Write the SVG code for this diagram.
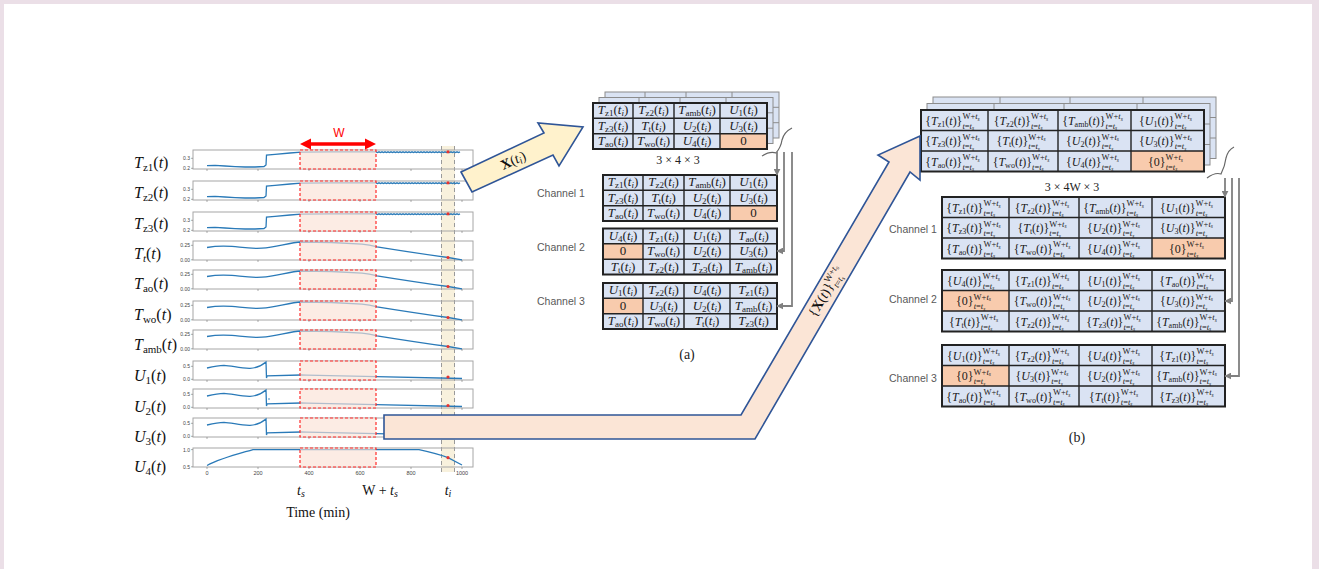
<svg xmlns="http://www.w3.org/2000/svg" xmlns:xlink="http://www.w3.org/1999/xlink" width="1319" height="569" viewBox="0 0 1319 569">
<style>
.bx{fill:none;stroke:#a6a6a6;stroke-width:1}
.cv{fill:none;stroke:#2a7ab8;stroke-width:1.3}
.win{fill:#fbe2d6;fill-opacity:.65;stroke:#ff2b2b;stroke-width:1.2;stroke-dasharray:3 2}
.dot{fill:#e8322f}
.tk{font-family:"Liberation Sans",sans-serif;font-size:5px;fill:#444;text-anchor:end}
.tkx{font-family:"Liberation Sans",sans-serif;font-size:5.5px;fill:#444;text-anchor:middle}
.tkl{fill:none;stroke:#777;stroke-width:.6}
.lab{font-family:"Liberation Serif",serif;font-size:16px;fill:#111}
.ls{font-size:11px}
.i{font-style:italic}
.bg{fill:#dae3f3}
.z{fill:#f8cbad}
.gl{fill:none;stroke:#222;stroke-width:1.4}
.go{fill:none;stroke:#222;stroke-width:2}
.back{fill:#dae3f3;stroke:#8c8c8c;stroke-width:1}
.backl{fill:none;stroke:#8c8c8c;stroke-width:1}
.c{font-family:"Liberation Serif",serif;font-size:13px;text-anchor:middle;fill:#1a1a1a}
.s{font-size:9px}
.cb{font-family:"Liberation Serif",serif;font-size:12px;text-anchor:middle;fill:#1a1a1a}
.sb{font-size:8px}
.p{font-size:8.5px}
.q{font-size:5.5px}
.ch{font-family:"Liberation Sans",sans-serif;font-size:10.5px;fill:#595959}
.cap{font-family:"Liberation Serif",serif;font-size:14px;fill:#222;text-anchor:middle}
.dim{font-family:"Liberation Serif",serif;font-size:12px;fill:#222;text-anchor:middle}
.conn{fill:none;stroke:#808080;stroke-width:1.8}
.br{fill:none;stroke:#666;stroke-width:1.2}
.ya{fill:#fff2cc;stroke:#2f5597;stroke-width:1.6;stroke-linejoin:miter}
.pa{fill:#fbe5d6;stroke:#2f5597;stroke-width:1.6;stroke-linejoin:miter}
.al{font-family:"Liberation Serif",serif;font-size:14px;fill:#111;text-anchor:middle}
</style>
<defs>
<marker id="ah" viewBox="0 0 10 10" refX="9" refY="5" markerWidth="7" markerHeight="7" orient="auto" markerUnits="userSpaceOnUse"><path d="M0,0 L10,5 L0,10 Z" fill="#808080"/></marker>
<path id="cZ" d="M207,15.7 L215,15.3 L225,16 L235,16.6 L245,17 L255,17 L264,16.5 L266,15 L266.5,5 L275,4.3 L290,3 L301,2.2 L330,1.8 L376,1.8 l1.5,.7 1.5,-.7 1.5,.7 1.5,-.7 1.5,.7 1.5,-.7 1.5,.7 1.5,-.7 1.5,.7 1.5,-.7 1.5,.7 1.5,-.7 1.5,.7 1.5,-.7 1.5,.7 1.5,-.7 1.5,.7 1.5,-.7 1.5,.7 1.5,-.7 1.5,.7 1.5,-.7 1.5,.7 1.5,-.7 1.5,.7 1.5,-.7 1.5,.7 1.5,-.7 1.5,.7 1.5,-.7 1.5,.7 1.5,-.7 1.5,.7 1.5,-.7 1.5,.7 1.5,-.7 1.5,.7 1.5,-.7 1.5,.7 1.5,-.7 1.5,.7 1.5,-.7 1.5,.7 1.5,-.7 1.5,.7 1.5,-.7 1.5,.7 1.5,-.7 1.5,.7 1.5,-.7 1.5,.7 1.5,-.7 1.5,.7 1.5,-.7 1.5,.7 1.5,-.7"/>
<path id="cT" d="M207,6.5 C214,5.2 222,4.6 232,5.4 C242,6.3 250,8 262,7.2 C276,6.2 290,1.5 301,1 C320,1 345,2 362,3.2 C370,3.8 374,5 377,5.8 C400,9.5 430,14 448,16.5 L462,18.8"/>
<path id="cU" d="M207,7 C213,5.5 218,4.3 224,4.3 C232,4.6 240,7.5 250,7.3 C258,7.1 263,3.5 266,1 L266.5,17 L267,14.8 L301,14 C330,14.6 360,15.3 376,15.6 L462,17.5"/>
<path id="cU4" d="M207,17.5 C220,10.5 238,6 253,1.6 L419,1.6 C430,4 440,6.5 448,9.7 L462,17"/>
<path id="xt" class="tkl" d="M207,19v2M258,19v2M309,19v2M360,19v2M411,19v2M462,19v2"/>
<g id="ytZ"><text class="tk" x="190" y="10">0.3</text><text class="tk" x="190" y="20">0.2</text><path class="tkl" d="M191,8.3h2M191,18.3h2"/></g>
<g id="ytT"><text class="tk" x="190" y="6">0.25</text><text class="tk" x="190" y="20.5">0.00</text><path class="tkl" d="M191,4.3h2M191,18.8h2"/></g>
<g id="ytU"><text class="tk" x="190" y="7">0.5</text><text class="tk" x="190" y="20">0.0</text><path class="tkl" d="M191,5.3h2M191,18.3h2"/></g>
<g id="ytU4"><text class="tk" x="190" y="3.5">1.0</text><text class="tk" x="190" y="20.5">0.5</text><path class="tkl" d="M191,1.6h2M191,18.8h2"/></g>
<g id="backA"><rect class="back" width="174" height="46"/><path class="backl" d="M40,0V46M81,0V46M127,0V46M0,15.3H174M0,30.7H174"/></g>
<g id="gridA"><path class="gl" d="M40,0V46M81,0V46M127,0V46M0,15.3H174M0,30.7H174"/><rect class="go" width="174" height="46"/></g>
<g id="backB"><rect class="back" width="283" height="61.5"/><path class="backl" d="M67,0V61.5M137,0V61.5M210,0V61.5M0,20.5H283M0,41H283"/></g>
<g id="gridB"><path class="gl" d="M67,0V61.5M137,0V61.5M210,0V61.5M0,20.5H283M0,41H283"/><rect class="go" width="283" height="61.5"/></g>
</defs>

<rect width="1319" height="569" fill="#ebdfe7"/>
<rect x="4" y="4" width="1308" height="565" fill="#ffffff"/>

<g id="time-band">
<rect x="441" y="146" width="14" height="326" fill="#f8f1dd"/>
<path d="M441.5,146V472M454.5,146V472" fill="none" stroke="#9a9a9a" stroke-width="1" stroke-dasharray="4 3"/>
</g>

<g id="plot-Tz1" transform="translate(0,150)">
<rect class="bx" x="193" y="0" width="280" height="19"/><use href="#xt"/><use href="#ytZ"/>
<use href="#cZ" class="cv"/><rect class="win" x="300" y="0" width="76" height="19"/><circle class="dot" cx="448" cy="1.8" r="1.6"/>
<text class="lab" x="134" y="18"><tspan class="i">T</tspan><tspan class="ls" dy="3">z1</tspan><tspan dy="-3">(</tspan><tspan class="i">t</tspan>)</text>
</g>
<g id="plot-Tz2" transform="translate(0,181)">
<rect class="bx" x="193" y="0" width="280" height="19"/><use href="#xt"/><use href="#ytZ"/>
<use href="#cZ" class="cv"/><rect class="win" x="300" y="0" width="76" height="19"/><circle class="dot" cx="448" cy="1.8" r="1.6"/>
<text class="lab" x="134" y="17"><tspan class="i">T</tspan><tspan class="ls" dy="3">z2</tspan><tspan dy="-3">(</tspan><tspan class="i">t</tspan>)</text>
</g>
<g id="plot-Tz3" transform="translate(0,212)">
<rect class="bx" x="193" y="0" width="280" height="19"/><use href="#xt"/><use href="#ytZ"/>
<use href="#cZ" class="cv"/><rect class="win" x="300" y="0" width="76" height="19"/><circle class="dot" cx="448" cy="1.8" r="1.6"/>
<text class="lab" x="134" y="17"><tspan class="i">T</tspan><tspan class="ls" dy="3">z3</tspan><tspan dy="-3">(</tspan><tspan class="i">t</tspan>)</text>
</g>
<g id="plot-Tt" transform="translate(0,241)">
<rect class="bx" x="193" y="0" width="280" height="19"/><use href="#xt"/><use href="#ytT"/>
<use href="#cT" class="cv"/><rect class="win" x="300" y="0" width="76" height="19"/><circle class="dot" cx="448" cy="16.5" r="1.6"/>
<text class="lab" x="134" y="18"><tspan class="i">T</tspan><tspan class="ls i" dy="3">t</tspan><tspan dy="-3">(</tspan><tspan class="i">t</tspan>)</text>
</g>
<g id="plot-Tao" transform="translate(0,270)">
<rect class="bx" x="193" y="0" width="280" height="19"/><use href="#xt"/><use href="#ytT"/>
<use href="#cT" class="cv"/><rect class="win" x="300" y="0" width="76" height="19"/><circle class="dot" cx="448" cy="16.5" r="1.6"/>
<text class="lab" x="134" y="19"><tspan class="i">T</tspan><tspan class="ls" dy="3">ao</tspan><tspan dy="-3">(</tspan><tspan class="i">t</tspan>)</text>
</g>
<g id="plot-Two" transform="translate(0,301)">
<rect class="bx" x="193" y="0" width="280" height="19"/><use href="#xt"/><use href="#ytT"/>
<use href="#cT" class="cv"/><rect class="win" x="300" y="0" width="76" height="19"/><circle class="dot" cx="448" cy="16.5" r="1.6"/>
<text class="lab" x="134" y="19"><tspan class="i">T</tspan><tspan class="ls" dy="3">wo</tspan><tspan dy="-3">(</tspan><tspan class="i">t</tspan>)</text>
</g>
<g id="plot-Tamb" transform="translate(0,330)">
<rect class="bx" x="193" y="0" width="280" height="19"/><use href="#xt"/><use href="#ytT"/>
<use href="#cT" class="cv"/><rect class="win" x="300" y="0" width="76" height="19"/><circle class="dot" cx="448" cy="16.5" r="1.6"/>
<text class="lab" x="134" y="20"><tspan class="i">T</tspan><tspan class="ls" dy="3">amb</tspan><tspan dy="-3">(</tspan><tspan class="i">t</tspan>)</text>
</g>
<g id="plot-U1" transform="translate(0,361)">
<rect class="bx" x="193" y="0" width="280" height="19"/><use href="#xt"/><use href="#ytU"/>
<use href="#cU" class="cv"/><rect class="win" x="300" y="0" width="76" height="19"/><circle class="dot" cx="448" cy="16" r="1.6"/>
<text class="lab" x="134" y="20"><tspan class="i">U</tspan><tspan class="ls" dy="3">1</tspan><tspan dy="-3">(</tspan><tspan class="i">t</tspan>)</text>
</g>
<g id="plot-U2" transform="translate(0,389)">
<rect class="bx" x="193" y="0" width="280" height="19"/><use href="#xt"/><use href="#ytU"/>
<use href="#cU" class="cv"/><circle cx="269" cy="10" r="0.8" fill="#2a7ab8"/><rect class="win" x="300" y="0" width="76" height="19"/><circle class="dot" cx="448" cy="16.5" r="1.6"/>
<text class="lab" x="134" y="23"><tspan class="i">U</tspan><tspan class="ls" dy="3">2</tspan><tspan dy="-3">(</tspan><tspan class="i">t</tspan>)</text>
</g>
<g id="plot-U3" transform="translate(0,418)">
<rect class="bx" x="193" y="0" width="280" height="19"/><use href="#xt"/><use href="#ytU"/>
<use href="#cU" class="cv"/><rect class="win" x="300" y="0" width="76" height="19"/><circle class="dot" cx="448" cy="16.5" r="1.6"/>
<text class="lab" x="134" y="24"><tspan class="i">U</tspan><tspan class="ls" dy="3">3</tspan><tspan dy="-3">(</tspan><tspan class="i">t</tspan>)</text>
</g>
<g id="plot-U4" transform="translate(0,448)">
<rect class="bx" x="193" y="0" width="280" height="19"/><use href="#xt"/><use href="#ytU4"/>
<use href="#cU4" class="cv"/><rect class="win" x="300" y="0" width="76" height="19"/><circle class="dot" cx="448" cy="9.7" r="1.6"/>
<text class="lab" x="134" y="24"><tspan class="i">U</tspan><tspan class="ls" dy="3">4</tspan><tspan dy="-3">(</tspan><tspan class="i">t</tspan>)</text>
<text class="tkx" x="207" y="26.5">0</text><text class="tkx" x="258" y="26.5">200</text><text class="tkx" x="309" y="26.5">400</text><text class="tkx" x="360" y="26.5">600</text><text class="tkx" x="411" y="26.5">800</text><text class="tkx" x="462" y="26.5">1000</text>
</g>

<g id="window-W">
<line x1="308" y1="144" x2="368" y2="144" stroke="#ff0000" stroke-width="3.5"/>
<path d="M300,144 L311,138.5 L311,149.5 Z M376,144 L365,138.5 L365,149.5 Z" fill="#ff0000"/>
<text x="339" y="137" font-family="Liberation Sans, sans-serif" font-size="12" fill="#ff0000" text-anchor="middle">W</text>
</g>

<g id="time-labels">
<text class="al" x="301" y="495"><tspan class="i">t</tspan><tspan class="i" font-size="10" dy="2">s</tspan></text>
<text class="al" x="380" y="495">W + <tspan class="i">t</tspan><tspan class="i" font-size="10" dy="2">s</tspan></text>
<text class="al" x="448" y="495" fill="#ff0000"><tspan class="i">t</tspan><tspan class="i" font-size="10" dy="2">i</tspan></text>
<text class="al" x="318" y="517">Time (min)</text>
</g>

<g id="table-a-stack">
<use href="#backA" x="605" y="92"/>
<use href="#backA" x="599" y="97.5"/>
<g transform="translate(593,103)">
<rect class="bg" width="174" height="46"/><rect class="z" x="127" y="30.7" width="47" height="15.3"/><use href="#gridA"/>
<text class="c" x="20" y="11.3"><tspan class="i">T</tspan><tspan class="s" dy="2">z1</tspan><tspan dy="-2">(</tspan><tspan class="i">t</tspan><tspan class="s i" dy="2">i</tspan><tspan dy="-2">)</tspan></text>
<text class="c" x="60.5" y="11.3"><tspan class="i">T</tspan><tspan class="s" dy="2">z2</tspan><tspan dy="-2">(</tspan><tspan class="i">t</tspan><tspan class="s i" dy="2">i</tspan><tspan dy="-2">)</tspan></text>
<text class="c" x="104" y="11.3"><tspan class="i">T</tspan><tspan class="s" dy="2">amb</tspan><tspan dy="-2">(</tspan><tspan class="i">t</tspan><tspan class="s i" dy="2">i</tspan><tspan dy="-2">)</tspan></text>
<text class="c" x="150.5" y="11.3"><tspan class="i">U</tspan><tspan class="s" dy="2">1</tspan><tspan dy="-2">(</tspan><tspan class="i">t</tspan><tspan class="s i" dy="2">i</tspan><tspan dy="-2">)</tspan></text>
<text class="c" x="20" y="26.7"><tspan class="i">T</tspan><tspan class="s" dy="2">z3</tspan><tspan dy="-2">(</tspan><tspan class="i">t</tspan><tspan class="s i" dy="2">i</tspan><tspan dy="-2">)</tspan></text>
<text class="c" x="60.5" y="26.7"><tspan class="i">T</tspan><tspan class="s" dy="2">t</tspan><tspan dy="-2">(</tspan><tspan class="i">t</tspan><tspan class="s i" dy="2">i</tspan><tspan dy="-2">)</tspan></text>
<text class="c" x="104" y="26.7"><tspan class="i">U</tspan><tspan class="s" dy="2">2</tspan><tspan dy="-2">(</tspan><tspan class="i">t</tspan><tspan class="s i" dy="2">i</tspan><tspan dy="-2">)</tspan></text>
<text class="c" x="150.5" y="26.7"><tspan class="i">U</tspan><tspan class="s" dy="2">3</tspan><tspan dy="-2">(</tspan><tspan class="i">t</tspan><tspan class="s i" dy="2">i</tspan><tspan dy="-2">)</tspan></text>
<text class="c" x="20" y="42"><tspan class="i">T</tspan><tspan class="s" dy="2">ao</tspan><tspan dy="-2">(</tspan><tspan class="i">t</tspan><tspan class="s i" dy="2">i</tspan><tspan dy="-2">)</tspan></text>
<text class="c" x="60.5" y="42"><tspan class="i">T</tspan><tspan class="s" dy="2">wo</tspan><tspan dy="-2">(</tspan><tspan class="i">t</tspan><tspan class="s i" dy="2">i</tspan><tspan dy="-2">)</tspan></text>
<text class="c" x="104" y="42"><tspan class="i">U</tspan><tspan class="s" dy="2">4</tspan><tspan dy="-2">(</tspan><tspan class="i">t</tspan><tspan class="s i" dy="2">i</tspan><tspan dy="-2">)</tspan></text>
<text class="c" x="150.5" y="42">0</text>
</g>
<text class="dim" x="678" y="164">3 × 4 × 3</text>
</g>

<g id="table-a-ch1">
<text class="ch" x="537" y="197">Channel 1</text>
<g transform="translate(603,175)">
<rect class="bg" width="174" height="46"/><rect class="z" x="127" y="30.7" width="47" height="15.3"/><use href="#gridA"/>
<text class="c" x="20" y="11.3"><tspan class="i">T</tspan><tspan class="s" dy="2">z1</tspan><tspan dy="-2">(</tspan><tspan class="i">t</tspan><tspan class="s i" dy="2">i</tspan><tspan dy="-2">)</tspan></text>
<text class="c" x="60.5" y="11.3"><tspan class="i">T</tspan><tspan class="s" dy="2">z2</tspan><tspan dy="-2">(</tspan><tspan class="i">t</tspan><tspan class="s i" dy="2">i</tspan><tspan dy="-2">)</tspan></text>
<text class="c" x="104" y="11.3"><tspan class="i">T</tspan><tspan class="s" dy="2">amb</tspan><tspan dy="-2">(</tspan><tspan class="i">t</tspan><tspan class="s i" dy="2">i</tspan><tspan dy="-2">)</tspan></text>
<text class="c" x="150.5" y="11.3"><tspan class="i">U</tspan><tspan class="s" dy="2">1</tspan><tspan dy="-2">(</tspan><tspan class="i">t</tspan><tspan class="s i" dy="2">i</tspan><tspan dy="-2">)</tspan></text>
<text class="c" x="20" y="26.7"><tspan class="i">T</tspan><tspan class="s" dy="2">z3</tspan><tspan dy="-2">(</tspan><tspan class="i">t</tspan><tspan class="s i" dy="2">i</tspan><tspan dy="-2">)</tspan></text>
<text class="c" x="60.5" y="26.7"><tspan class="i">T</tspan><tspan class="s" dy="2">t</tspan><tspan dy="-2">(</tspan><tspan class="i">t</tspan><tspan class="s i" dy="2">i</tspan><tspan dy="-2">)</tspan></text>
<text class="c" x="104" y="26.7"><tspan class="i">U</tspan><tspan class="s" dy="2">2</tspan><tspan dy="-2">(</tspan><tspan class="i">t</tspan><tspan class="s i" dy="2">i</tspan><tspan dy="-2">)</tspan></text>
<text class="c" x="150.5" y="26.7"><tspan class="i">U</tspan><tspan class="s" dy="2">3</tspan><tspan dy="-2">(</tspan><tspan class="i">t</tspan><tspan class="s i" dy="2">i</tspan><tspan dy="-2">)</tspan></text>
<text class="c" x="20" y="42"><tspan class="i">T</tspan><tspan class="s" dy="2">ao</tspan><tspan dy="-2">(</tspan><tspan class="i">t</tspan><tspan class="s i" dy="2">i</tspan><tspan dy="-2">)</tspan></text>
<text class="c" x="60.5" y="42"><tspan class="i">T</tspan><tspan class="s" dy="2">wo</tspan><tspan dy="-2">(</tspan><tspan class="i">t</tspan><tspan class="s i" dy="2">i</tspan><tspan dy="-2">)</tspan></text>
<text class="c" x="104" y="42"><tspan class="i">U</tspan><tspan class="s" dy="2">4</tspan><tspan dy="-2">(</tspan><tspan class="i">t</tspan><tspan class="s i" dy="2">i</tspan><tspan dy="-2">)</tspan></text>
<text class="c" x="150.5" y="42">0</text>
</g>
</g>

<g id="table-a-ch2">
<text class="ch" x="537" y="251">Channel 2</text>
<g transform="translate(603,228.5)">
<rect class="bg" width="174" height="46"/><rect class="z" x="0" y="15.3" width="40" height="15.4"/><use href="#gridA"/>
<text class="c" x="20" y="11.3"><tspan class="i">U</tspan><tspan class="s" dy="2">4</tspan><tspan dy="-2">(</tspan><tspan class="i">t</tspan><tspan class="s i" dy="2">i</tspan><tspan dy="-2">)</tspan></text>
<text class="c" x="60.5" y="11.3"><tspan class="i">T</tspan><tspan class="s" dy="2">z1</tspan><tspan dy="-2">(</tspan><tspan class="i">t</tspan><tspan class="s i" dy="2">i</tspan><tspan dy="-2">)</tspan></text>
<text class="c" x="104" y="11.3"><tspan class="i">U</tspan><tspan class="s" dy="2">1</tspan><tspan dy="-2">(</tspan><tspan class="i">t</tspan><tspan class="s i" dy="2">i</tspan><tspan dy="-2">)</tspan></text>
<text class="c" x="150.5" y="11.3"><tspan class="i">T</tspan><tspan class="s" dy="2">ao</tspan><tspan dy="-2">(</tspan><tspan class="i">t</tspan><tspan class="s i" dy="2">i</tspan><tspan dy="-2">)</tspan></text>
<text class="c" x="20" y="26.7">0</text>
<text class="c" x="60.5" y="26.7"><tspan class="i">T</tspan><tspan class="s" dy="2">wo</tspan><tspan dy="-2">(</tspan><tspan class="i">t</tspan><tspan class="s i" dy="2">i</tspan><tspan dy="-2">)</tspan></text>
<text class="c" x="104" y="26.7"><tspan class="i">U</tspan><tspan class="s" dy="2">2</tspan><tspan dy="-2">(</tspan><tspan class="i">t</tspan><tspan class="s i" dy="2">i</tspan><tspan dy="-2">)</tspan></text>
<text class="c" x="150.5" y="26.7"><tspan class="i">U</tspan><tspan class="s" dy="2">3</tspan><tspan dy="-2">(</tspan><tspan class="i">t</tspan><tspan class="s i" dy="2">i</tspan><tspan dy="-2">)</tspan></text>
<text class="c" x="20" y="42"><tspan class="i">T</tspan><tspan class="s" dy="2">t</tspan><tspan dy="-2">(</tspan><tspan class="i">t</tspan><tspan class="s i" dy="2">i</tspan><tspan dy="-2">)</tspan></text>
<text class="c" x="60.5" y="42"><tspan class="i">T</tspan><tspan class="s" dy="2">z2</tspan><tspan dy="-2">(</tspan><tspan class="i">t</tspan><tspan class="s i" dy="2">i</tspan><tspan dy="-2">)</tspan></text>
<text class="c" x="104" y="42"><tspan class="i">T</tspan><tspan class="s" dy="2">z3</tspan><tspan dy="-2">(</tspan><tspan class="i">t</tspan><tspan class="s i" dy="2">i</tspan><tspan dy="-2">)</tspan></text>
<text class="c" x="150.5" y="42"><tspan class="i">T</tspan><tspan class="s" dy="2">amb</tspan><tspan dy="-2">(</tspan><tspan class="i">t</tspan><tspan class="s i" dy="2">i</tspan><tspan dy="-2">)</tspan></text>
</g>
</g>

<g id="table-a-ch3">
<text class="ch" x="537" y="305">Channel 3</text>
<g transform="translate(603,283)">
<rect class="bg" width="174" height="46"/><rect class="z" x="0" y="15.3" width="40" height="15.4"/><use href="#gridA"/>
<text class="c" x="20" y="11.3"><tspan class="i">U</tspan><tspan class="s" dy="2">1</tspan><tspan dy="-2">(</tspan><tspan class="i">t</tspan><tspan class="s i" dy="2">i</tspan><tspan dy="-2">)</tspan></text>
<text class="c" x="60.5" y="11.3"><tspan class="i">T</tspan><tspan class="s" dy="2">z2</tspan><tspan dy="-2">(</tspan><tspan class="i">t</tspan><tspan class="s i" dy="2">i</tspan><tspan dy="-2">)</tspan></text>
<text class="c" x="104" y="11.3"><tspan class="i">U</tspan><tspan class="s" dy="2">4</tspan><tspan dy="-2">(</tspan><tspan class="i">t</tspan><tspan class="s i" dy="2">i</tspan><tspan dy="-2">)</tspan></text>
<text class="c" x="150.5" y="11.3"><tspan class="i">T</tspan><tspan class="s" dy="2">z1</tspan><tspan dy="-2">(</tspan><tspan class="i">t</tspan><tspan class="s i" dy="2">i</tspan><tspan dy="-2">)</tspan></text>
<text class="c" x="20" y="26.7">0</text>
<text class="c" x="60.5" y="26.7"><tspan class="i">U</tspan><tspan class="s" dy="2">3</tspan><tspan dy="-2">(</tspan><tspan class="i">t</tspan><tspan class="s i" dy="2">i</tspan><tspan dy="-2">)</tspan></text>
<text class="c" x="104" y="26.7"><tspan class="i">U</tspan><tspan class="s" dy="2">2</tspan><tspan dy="-2">(</tspan><tspan class="i">t</tspan><tspan class="s i" dy="2">i</tspan><tspan dy="-2">)</tspan></text>
<text class="c" x="150.5" y="26.7"><tspan class="i">T</tspan><tspan class="s" dy="2">amb</tspan><tspan dy="-2">(</tspan><tspan class="i">t</tspan><tspan class="s i" dy="2">i</tspan><tspan dy="-2">)</tspan></text>
<text class="c" x="20" y="42"><tspan class="i">T</tspan><tspan class="s" dy="2">ao</tspan><tspan dy="-2">(</tspan><tspan class="i">t</tspan><tspan class="s i" dy="2">i</tspan><tspan dy="-2">)</tspan></text>
<text class="c" x="60.5" y="42"><tspan class="i">T</tspan><tspan class="s" dy="2">wo</tspan><tspan dy="-2">(</tspan><tspan class="i">t</tspan><tspan class="s i" dy="2">i</tspan><tspan dy="-2">)</tspan></text>
<text class="c" x="104" y="42"><tspan class="i">T</tspan><tspan class="s" dy="2">t</tspan><tspan dy="-2">(</tspan><tspan class="i">t</tspan><tspan class="s i" dy="2">i</tspan><tspan dy="-2">)</tspan></text>
<text class="c" x="150.5" y="42"><tspan class="i">T</tspan><tspan class="s" dy="2">z3</tspan><tspan dy="-2">(</tspan><tspan class="i">t</tspan><tspan class="s i" dy="2">i</tspan><tspan dy="-2">)</tspan></text>
</g>
<text class="cap" x="687" y="359">(a)</text>
</g>

<g id="table-b-stack">
<use href="#backB" x="933" y="97"/>
<use href="#backB" x="927" y="103.5"/>
<g transform="translate(921,110)">
<rect class="bg" width="283" height="61.5"/><rect class="z" x="210" y="41" width="73" height="20.5"/><use href="#gridB"/>
<text class="cb" x="31.5" y="14.5">{<tspan class="i">T</tspan><tspan class="sb" dy="2">z1</tspan><tspan dy="-2">(</tspan><tspan class="i">t</tspan>)}<tspan class="p" dy="-5.5">W+</tspan><tspan class="p i">t</tspan><tspan class="q i" dy="1.5">s</tspan><tspan class="p i" dx="-17.3" dy="8">t</tspan><tspan class="p">=</tspan><tspan class="p i">t</tspan><tspan class="q i" dy="1.5">s</tspan></text>
<text class="cb" x="100" y="14.5">{<tspan class="i">T</tspan><tspan class="sb" dy="2">z2</tspan><tspan dy="-2">(</tspan><tspan class="i">t</tspan>)}<tspan class="p" dy="-5.5">W+</tspan><tspan class="p i">t</tspan><tspan class="q i" dy="1.5">s</tspan><tspan class="p i" dx="-17.3" dy="8">t</tspan><tspan class="p">=</tspan><tspan class="p i">t</tspan><tspan class="q i" dy="1.5">s</tspan></text>
<text class="cb" x="171.5" y="14.5">{<tspan class="i">T</tspan><tspan class="sb" dy="2">amb</tspan><tspan dy="-2">(</tspan><tspan class="i">t</tspan>)}<tspan class="p" dy="-5.5">W+</tspan><tspan class="p i">t</tspan><tspan class="q i" dy="1.5">s</tspan><tspan class="p i" dx="-17.3" dy="8">t</tspan><tspan class="p">=</tspan><tspan class="p i">t</tspan><tspan class="q i" dy="1.5">s</tspan></text>
<text class="cb" x="244.5" y="14.5">{<tspan class="i">U</tspan><tspan class="sb" dy="2">1</tspan><tspan dy="-2">(</tspan><tspan class="i">t</tspan>)}<tspan class="p" dy="-5.5">W+</tspan><tspan class="p i">t</tspan><tspan class="q i" dy="1.5">s</tspan><tspan class="p i" dx="-17.3" dy="8">t</tspan><tspan class="p">=</tspan><tspan class="p i">t</tspan><tspan class="q i" dy="1.5">s</tspan></text>
<text class="cb" x="31.5" y="35">{<tspan class="i">T</tspan><tspan class="sb" dy="2">z3</tspan><tspan dy="-2">(</tspan><tspan class="i">t</tspan>)}<tspan class="p" dy="-5.5">W+</tspan><tspan class="p i">t</tspan><tspan class="q i" dy="1.5">s</tspan><tspan class="p i" dx="-17.3" dy="8">t</tspan><tspan class="p">=</tspan><tspan class="p i">t</tspan><tspan class="q i" dy="1.5">s</tspan></text>
<text class="cb" x="100" y="35">{<tspan class="i">T</tspan><tspan class="sb" dy="2">t</tspan><tspan dy="-2">(</tspan><tspan class="i">t</tspan>)}<tspan class="p" dy="-5.5">W+</tspan><tspan class="p i">t</tspan><tspan class="q i" dy="1.5">s</tspan><tspan class="p i" dx="-17.3" dy="8">t</tspan><tspan class="p">=</tspan><tspan class="p i">t</tspan><tspan class="q i" dy="1.5">s</tspan></text>
<text class="cb" x="171.5" y="35">{<tspan class="i">U</tspan><tspan class="sb" dy="2">2</tspan><tspan dy="-2">(</tspan><tspan class="i">t</tspan>)}<tspan class="p" dy="-5.5">W+</tspan><tspan class="p i">t</tspan><tspan class="q i" dy="1.5">s</tspan><tspan class="p i" dx="-17.3" dy="8">t</tspan><tspan class="p">=</tspan><tspan class="p i">t</tspan><tspan class="q i" dy="1.5">s</tspan></text>
<text class="cb" x="244.5" y="35">{<tspan class="i">U</tspan><tspan class="sb" dy="2">3</tspan><tspan dy="-2">(</tspan><tspan class="i">t</tspan>)}<tspan class="p" dy="-5.5">W+</tspan><tspan class="p i">t</tspan><tspan class="q i" dy="1.5">s</tspan><tspan class="p i" dx="-17.3" dy="8">t</tspan><tspan class="p">=</tspan><tspan class="p i">t</tspan><tspan class="q i" dy="1.5">s</tspan></text>
<text class="cb" x="31.5" y="55.5">{<tspan class="i">T</tspan><tspan class="sb" dy="2">ao</tspan><tspan dy="-2">(</tspan><tspan class="i">t</tspan>)}<tspan class="p" dy="-5.5">W+</tspan><tspan class="p i">t</tspan><tspan class="q i" dy="1.5">s</tspan><tspan class="p i" dx="-17.3" dy="8">t</tspan><tspan class="p">=</tspan><tspan class="p i">t</tspan><tspan class="q i" dy="1.5">s</tspan></text>
<text class="cb" x="100" y="55.5">{<tspan class="i">T</tspan><tspan class="sb" dy="2">wo</tspan><tspan dy="-2">(</tspan><tspan class="i">t</tspan>)}<tspan class="p" dy="-5.5">W+</tspan><tspan class="p i">t</tspan><tspan class="q i" dy="1.5">s</tspan><tspan class="p i" dx="-17.3" dy="8">t</tspan><tspan class="p">=</tspan><tspan class="p i">t</tspan><tspan class="q i" dy="1.5">s</tspan></text>
<text class="cb" x="171.5" y="55.5">{<tspan class="i">U</tspan><tspan class="sb" dy="2">4</tspan><tspan dy="-2">(</tspan><tspan class="i">t</tspan>)}<tspan class="p" dy="-5.5">W+</tspan><tspan class="p i">t</tspan><tspan class="q i" dy="1.5">s</tspan><tspan class="p i" dx="-17.3" dy="8">t</tspan><tspan class="p">=</tspan><tspan class="p i">t</tspan><tspan class="q i" dy="1.5">s</tspan></text>
<text class="cb" x="244.5" y="55.5">{0}<tspan class="p" dy="-5.5">W+</tspan><tspan class="p i">t</tspan><tspan class="q i" dy="1.5">s</tspan><tspan class="p i" dx="-17.3" dy="8">t</tspan><tspan class="p">=</tspan><tspan class="p i">t</tspan><tspan class="q i" dy="1.5">s</tspan></text>
</g>
<text class="dim" x="1072" y="191">3 × 4W × 3</text>
</g>

<g id="table-b-ch1">
<text class="ch" x="889" y="233">Channel 1</text>
<g transform="translate(942,197)">
<rect class="bg" width="283" height="61.5"/><rect class="z" x="210" y="41" width="73" height="20.5"/><use href="#gridB"/>
<text class="cb" x="31.5" y="14.5">{<tspan class="i">T</tspan><tspan class="sb" dy="2">z1</tspan><tspan dy="-2">(</tspan><tspan class="i">t</tspan>)}<tspan class="p" dy="-5.5">W+</tspan><tspan class="p i">t</tspan><tspan class="q i" dy="1.5">s</tspan><tspan class="p i" dx="-17.3" dy="8">t</tspan><tspan class="p">=</tspan><tspan class="p i">t</tspan><tspan class="q i" dy="1.5">s</tspan></text>
<text class="cb" x="100" y="14.5">{<tspan class="i">T</tspan><tspan class="sb" dy="2">z2</tspan><tspan dy="-2">(</tspan><tspan class="i">t</tspan>)}<tspan class="p" dy="-5.5">W+</tspan><tspan class="p i">t</tspan><tspan class="q i" dy="1.5">s</tspan><tspan class="p i" dx="-17.3" dy="8">t</tspan><tspan class="p">=</tspan><tspan class="p i">t</tspan><tspan class="q i" dy="1.5">s</tspan></text>
<text class="cb" x="171.5" y="14.5">{<tspan class="i">T</tspan><tspan class="sb" dy="2">amb</tspan><tspan dy="-2">(</tspan><tspan class="i">t</tspan>)}<tspan class="p" dy="-5.5">W+</tspan><tspan class="p i">t</tspan><tspan class="q i" dy="1.5">s</tspan><tspan class="p i" dx="-17.3" dy="8">t</tspan><tspan class="p">=</tspan><tspan class="p i">t</tspan><tspan class="q i" dy="1.5">s</tspan></text>
<text class="cb" x="244.5" y="14.5">{<tspan class="i">U</tspan><tspan class="sb" dy="2">1</tspan><tspan dy="-2">(</tspan><tspan class="i">t</tspan>)}<tspan class="p" dy="-5.5">W+</tspan><tspan class="p i">t</tspan><tspan class="q i" dy="1.5">s</tspan><tspan class="p i" dx="-17.3" dy="8">t</tspan><tspan class="p">=</tspan><tspan class="p i">t</tspan><tspan class="q i" dy="1.5">s</tspan></text>
<text class="cb" x="31.5" y="35">{<tspan class="i">T</tspan><tspan class="sb" dy="2">z3</tspan><tspan dy="-2">(</tspan><tspan class="i">t</tspan>)}<tspan class="p" dy="-5.5">W+</tspan><tspan class="p i">t</tspan><tspan class="q i" dy="1.5">s</tspan><tspan class="p i" dx="-17.3" dy="8">t</tspan><tspan class="p">=</tspan><tspan class="p i">t</tspan><tspan class="q i" dy="1.5">s</tspan></text>
<text class="cb" x="100" y="35">{<tspan class="i">T</tspan><tspan class="sb" dy="2">t</tspan><tspan dy="-2">(</tspan><tspan class="i">t</tspan>)}<tspan class="p" dy="-5.5">W+</tspan><tspan class="p i">t</tspan><tspan class="q i" dy="1.5">s</tspan><tspan class="p i" dx="-17.3" dy="8">t</tspan><tspan class="p">=</tspan><tspan class="p i">t</tspan><tspan class="q i" dy="1.5">s</tspan></text>
<text class="cb" x="171.5" y="35">{<tspan class="i">U</tspan><tspan class="sb" dy="2">2</tspan><tspan dy="-2">(</tspan><tspan class="i">t</tspan>)}<tspan class="p" dy="-5.5">W+</tspan><tspan class="p i">t</tspan><tspan class="q i" dy="1.5">s</tspan><tspan class="p i" dx="-17.3" dy="8">t</tspan><tspan class="p">=</tspan><tspan class="p i">t</tspan><tspan class="q i" dy="1.5">s</tspan></text>
<text class="cb" x="244.5" y="35">{<tspan class="i">U</tspan><tspan class="sb" dy="2">3</tspan><tspan dy="-2">(</tspan><tspan class="i">t</tspan>)}<tspan class="p" dy="-5.5">W+</tspan><tspan class="p i">t</tspan><tspan class="q i" dy="1.5">s</tspan><tspan class="p i" dx="-17.3" dy="8">t</tspan><tspan class="p">=</tspan><tspan class="p i">t</tspan><tspan class="q i" dy="1.5">s</tspan></text>
<text class="cb" x="31.5" y="55.5">{<tspan class="i">T</tspan><tspan class="sb" dy="2">ao</tspan><tspan dy="-2">(</tspan><tspan class="i">t</tspan>)}<tspan class="p" dy="-5.5">W+</tspan><tspan class="p i">t</tspan><tspan class="q i" dy="1.5">s</tspan><tspan class="p i" dx="-17.3" dy="8">t</tspan><tspan class="p">=</tspan><tspan class="p i">t</tspan><tspan class="q i" dy="1.5">s</tspan></text>
<text class="cb" x="100" y="55.5">{<tspan class="i">T</tspan><tspan class="sb" dy="2">wo</tspan><tspan dy="-2">(</tspan><tspan class="i">t</tspan>)}<tspan class="p" dy="-5.5">W+</tspan><tspan class="p i">t</tspan><tspan class="q i" dy="1.5">s</tspan><tspan class="p i" dx="-17.3" dy="8">t</tspan><tspan class="p">=</tspan><tspan class="p i">t</tspan><tspan class="q i" dy="1.5">s</tspan></text>
<text class="cb" x="171.5" y="55.5">{<tspan class="i">U</tspan><tspan class="sb" dy="2">4</tspan><tspan dy="-2">(</tspan><tspan class="i">t</tspan>)}<tspan class="p" dy="-5.5">W+</tspan><tspan class="p i">t</tspan><tspan class="q i" dy="1.5">s</tspan><tspan class="p i" dx="-17.3" dy="8">t</tspan><tspan class="p">=</tspan><tspan class="p i">t</tspan><tspan class="q i" dy="1.5">s</tspan></text>
<text class="cb" x="244.5" y="55.5">{0}<tspan class="p" dy="-5.5">W+</tspan><tspan class="p i">t</tspan><tspan class="q i" dy="1.5">s</tspan><tspan class="p i" dx="-17.3" dy="8">t</tspan><tspan class="p">=</tspan><tspan class="p i">t</tspan><tspan class="q i" dy="1.5">s</tspan></text>
</g>
</g>

<g id="table-b-ch2">
<text class="ch" x="889" y="303">Channel 2</text>
<g transform="translate(942,270)">
<rect class="bg" width="283" height="61.5"/><rect class="z" x="0" y="20.5" width="67" height="20.5"/><use href="#gridB"/>
<text class="cb" x="31.5" y="14.5">{<tspan class="i">U</tspan><tspan class="sb" dy="2">4</tspan><tspan dy="-2">(</tspan><tspan class="i">t</tspan>)}<tspan class="p" dy="-5.5">W+</tspan><tspan class="p i">t</tspan><tspan class="q i" dy="1.5">s</tspan><tspan class="p i" dx="-17.3" dy="8">t</tspan><tspan class="p">=</tspan><tspan class="p i">t</tspan><tspan class="q i" dy="1.5">s</tspan></text>
<text class="cb" x="100" y="14.5">{<tspan class="i">T</tspan><tspan class="sb" dy="2">z1</tspan><tspan dy="-2">(</tspan><tspan class="i">t</tspan>)}<tspan class="p" dy="-5.5">W+</tspan><tspan class="p i">t</tspan><tspan class="q i" dy="1.5">s</tspan><tspan class="p i" dx="-17.3" dy="8">t</tspan><tspan class="p">=</tspan><tspan class="p i">t</tspan><tspan class="q i" dy="1.5">s</tspan></text>
<text class="cb" x="171.5" y="14.5">{<tspan class="i">U</tspan><tspan class="sb" dy="2">1</tspan><tspan dy="-2">(</tspan><tspan class="i">t</tspan>)}<tspan class="p" dy="-5.5">W+</tspan><tspan class="p i">t</tspan><tspan class="q i" dy="1.5">s</tspan><tspan class="p i" dx="-17.3" dy="8">t</tspan><tspan class="p">=</tspan><tspan class="p i">t</tspan><tspan class="q i" dy="1.5">s</tspan></text>
<text class="cb" x="244.5" y="14.5">{<tspan class="i">T</tspan><tspan class="sb" dy="2">ao</tspan><tspan dy="-2">(</tspan><tspan class="i">t</tspan>)}<tspan class="p" dy="-5.5">W+</tspan><tspan class="p i">t</tspan><tspan class="q i" dy="1.5">s</tspan><tspan class="p i" dx="-17.3" dy="8">t</tspan><tspan class="p">=</tspan><tspan class="p i">t</tspan><tspan class="q i" dy="1.5">s</tspan></text>
<text class="cb" x="31.5" y="35">{0}<tspan class="p" dy="-5.5">W+</tspan><tspan class="p i">t</tspan><tspan class="q i" dy="1.5">s</tspan><tspan class="p i" dx="-17.3" dy="8">t</tspan><tspan class="p">=</tspan><tspan class="p i">t</tspan><tspan class="q i" dy="1.5">s</tspan></text>
<text class="cb" x="100" y="35">{<tspan class="i">T</tspan><tspan class="sb" dy="2">wo</tspan><tspan dy="-2">(</tspan><tspan class="i">t</tspan>)}<tspan class="p" dy="-5.5">W+</tspan><tspan class="p i">t</tspan><tspan class="q i" dy="1.5">s</tspan><tspan class="p i" dx="-17.3" dy="8">t</tspan><tspan class="p">=</tspan><tspan class="p i">t</tspan><tspan class="q i" dy="1.5">s</tspan></text>
<text class="cb" x="171.5" y="35">{<tspan class="i">U</tspan><tspan class="sb" dy="2">2</tspan><tspan dy="-2">(</tspan><tspan class="i">t</tspan>)}<tspan class="p" dy="-5.5">W+</tspan><tspan class="p i">t</tspan><tspan class="q i" dy="1.5">s</tspan><tspan class="p i" dx="-17.3" dy="8">t</tspan><tspan class="p">=</tspan><tspan class="p i">t</tspan><tspan class="q i" dy="1.5">s</tspan></text>
<text class="cb" x="244.5" y="35">{<tspan class="i">U</tspan><tspan class="sb" dy="2">3</tspan><tspan dy="-2">(</tspan><tspan class="i">t</tspan>)}<tspan class="p" dy="-5.5">W+</tspan><tspan class="p i">t</tspan><tspan class="q i" dy="1.5">s</tspan><tspan class="p i" dx="-17.3" dy="8">t</tspan><tspan class="p">=</tspan><tspan class="p i">t</tspan><tspan class="q i" dy="1.5">s</tspan></text>
<text class="cb" x="31.5" y="55.5">{<tspan class="i">T</tspan><tspan class="sb" dy="2">t</tspan><tspan dy="-2">(</tspan><tspan class="i">t</tspan>)}<tspan class="p" dy="-5.5">W+</tspan><tspan class="p i">t</tspan><tspan class="q i" dy="1.5">s</tspan><tspan class="p i" dx="-17.3" dy="8">t</tspan><tspan class="p">=</tspan><tspan class="p i">t</tspan><tspan class="q i" dy="1.5">s</tspan></text>
<text class="cb" x="100" y="55.5">{<tspan class="i">T</tspan><tspan class="sb" dy="2">z2</tspan><tspan dy="-2">(</tspan><tspan class="i">t</tspan>)}<tspan class="p" dy="-5.5">W+</tspan><tspan class="p i">t</tspan><tspan class="q i" dy="1.5">s</tspan><tspan class="p i" dx="-17.3" dy="8">t</tspan><tspan class="p">=</tspan><tspan class="p i">t</tspan><tspan class="q i" dy="1.5">s</tspan></text>
<text class="cb" x="171.5" y="55.5">{<tspan class="i">T</tspan><tspan class="sb" dy="2">z3</tspan><tspan dy="-2">(</tspan><tspan class="i">t</tspan>)}<tspan class="p" dy="-5.5">W+</tspan><tspan class="p i">t</tspan><tspan class="q i" dy="1.5">s</tspan><tspan class="p i" dx="-17.3" dy="8">t</tspan><tspan class="p">=</tspan><tspan class="p i">t</tspan><tspan class="q i" dy="1.5">s</tspan></text>
<text class="cb" x="244.5" y="55.5">{<tspan class="i">T</tspan><tspan class="sb" dy="2">amb</tspan><tspan dy="-2">(</tspan><tspan class="i">t</tspan>)}<tspan class="p" dy="-5.5">W+</tspan><tspan class="p i">t</tspan><tspan class="q i" dy="1.5">s</tspan><tspan class="p i" dx="-17.3" dy="8">t</tspan><tspan class="p">=</tspan><tspan class="p i">t</tspan><tspan class="q i" dy="1.5">s</tspan></text>
</g>
</g>

<g id="table-b-ch3">
<text class="ch" x="889" y="382">Channel 3</text>
<g transform="translate(942,345)">
<rect class="bg" width="283" height="61.5"/><rect class="z" x="0" y="20.5" width="67" height="20.5"/><use href="#gridB"/>
<text class="cb" x="31.5" y="14.5">{<tspan class="i">U</tspan><tspan class="sb" dy="2">1</tspan><tspan dy="-2">(</tspan><tspan class="i">t</tspan>)}<tspan class="p" dy="-5.5">W+</tspan><tspan class="p i">t</tspan><tspan class="q i" dy="1.5">s</tspan><tspan class="p i" dx="-17.3" dy="8">t</tspan><tspan class="p">=</tspan><tspan class="p i">t</tspan><tspan class="q i" dy="1.5">s</tspan></text>
<text class="cb" x="100" y="14.5">{<tspan class="i">T</tspan><tspan class="sb" dy="2">z2</tspan><tspan dy="-2">(</tspan><tspan class="i">t</tspan>)}<tspan class="p" dy="-5.5">W+</tspan><tspan class="p i">t</tspan><tspan class="q i" dy="1.5">s</tspan><tspan class="p i" dx="-17.3" dy="8">t</tspan><tspan class="p">=</tspan><tspan class="p i">t</tspan><tspan class="q i" dy="1.5">s</tspan></text>
<text class="cb" x="171.5" y="14.5">{<tspan class="i">U</tspan><tspan class="sb" dy="2">4</tspan><tspan dy="-2">(</tspan><tspan class="i">t</tspan>)}<tspan class="p" dy="-5.5">W+</tspan><tspan class="p i">t</tspan><tspan class="q i" dy="1.5">s</tspan><tspan class="p i" dx="-17.3" dy="8">t</tspan><tspan class="p">=</tspan><tspan class="p i">t</tspan><tspan class="q i" dy="1.5">s</tspan></text>
<text class="cb" x="244.5" y="14.5">{<tspan class="i">T</tspan><tspan class="sb" dy="2">z1</tspan><tspan dy="-2">(</tspan><tspan class="i">t</tspan>)}<tspan class="p" dy="-5.5">W+</tspan><tspan class="p i">t</tspan><tspan class="q i" dy="1.5">s</tspan><tspan class="p i" dx="-17.3" dy="8">t</tspan><tspan class="p">=</tspan><tspan class="p i">t</tspan><tspan class="q i" dy="1.5">s</tspan></text>
<text class="cb" x="31.5" y="35">{0}<tspan class="p" dy="-5.5">W+</tspan><tspan class="p i">t</tspan><tspan class="q i" dy="1.5">s</tspan><tspan class="p i" dx="-17.3" dy="8">t</tspan><tspan class="p">=</tspan><tspan class="p i">t</tspan><tspan class="q i" dy="1.5">s</tspan></text>
<text class="cb" x="100" y="35">{<tspan class="i">U</tspan><tspan class="sb" dy="2">3</tspan><tspan dy="-2">(</tspan><tspan class="i">t</tspan>)}<tspan class="p" dy="-5.5">W+</tspan><tspan class="p i">t</tspan><tspan class="q i" dy="1.5">s</tspan><tspan class="p i" dx="-17.3" dy="8">t</tspan><tspan class="p">=</tspan><tspan class="p i">t</tspan><tspan class="q i" dy="1.5">s</tspan></text>
<text class="cb" x="171.5" y="35">{<tspan class="i">U</tspan><tspan class="sb" dy="2">2</tspan><tspan dy="-2">(</tspan><tspan class="i">t</tspan>)}<tspan class="p" dy="-5.5">W+</tspan><tspan class="p i">t</tspan><tspan class="q i" dy="1.5">s</tspan><tspan class="p i" dx="-17.3" dy="8">t</tspan><tspan class="p">=</tspan><tspan class="p i">t</tspan><tspan class="q i" dy="1.5">s</tspan></text>
<text class="cb" x="244.5" y="35">{<tspan class="i">T</tspan><tspan class="sb" dy="2">amb</tspan><tspan dy="-2">(</tspan><tspan class="i">t</tspan>)}<tspan class="p" dy="-5.5">W+</tspan><tspan class="p i">t</tspan><tspan class="q i" dy="1.5">s</tspan><tspan class="p i" dx="-17.3" dy="8">t</tspan><tspan class="p">=</tspan><tspan class="p i">t</tspan><tspan class="q i" dy="1.5">s</tspan></text>
<text class="cb" x="31.5" y="55.5">{<tspan class="i">T</tspan><tspan class="sb" dy="2">ao</tspan><tspan dy="-2">(</tspan><tspan class="i">t</tspan>)}<tspan class="p" dy="-5.5">W+</tspan><tspan class="p i">t</tspan><tspan class="q i" dy="1.5">s</tspan><tspan class="p i" dx="-17.3" dy="8">t</tspan><tspan class="p">=</tspan><tspan class="p i">t</tspan><tspan class="q i" dy="1.5">s</tspan></text>
<text class="cb" x="100" y="55.5">{<tspan class="i">T</tspan><tspan class="sb" dy="2">wo</tspan><tspan dy="-2">(</tspan><tspan class="i">t</tspan>)}<tspan class="p" dy="-5.5">W+</tspan><tspan class="p i">t</tspan><tspan class="q i" dy="1.5">s</tspan><tspan class="p i" dx="-17.3" dy="8">t</tspan><tspan class="p">=</tspan><tspan class="p i">t</tspan><tspan class="q i" dy="1.5">s</tspan></text>
<text class="cb" x="171.5" y="55.5">{<tspan class="i">T</tspan><tspan class="sb" dy="2">t</tspan><tspan dy="-2">(</tspan><tspan class="i">t</tspan>)}<tspan class="p" dy="-5.5">W+</tspan><tspan class="p i">t</tspan><tspan class="q i" dy="1.5">s</tspan><tspan class="p i" dx="-17.3" dy="8">t</tspan><tspan class="p">=</tspan><tspan class="p i">t</tspan><tspan class="q i" dy="1.5">s</tspan></text>
<text class="cb" x="244.5" y="55.5">{<tspan class="i">T</tspan><tspan class="sb" dy="2">z3</tspan><tspan dy="-2">(</tspan><tspan class="i">t</tspan>)}<tspan class="p" dy="-5.5">W+</tspan><tspan class="p i">t</tspan><tspan class="q i" dy="1.5">s</tspan><tspan class="p i" dx="-17.3" dy="8">t</tspan><tspan class="p">=</tspan><tspan class="p i">t</tspan><tspan class="q i" dy="1.5">s</tspan></text>
</g>
<text class="cap" x="1077" y="442">(b)</text>
</g>

<g id="connectors">
<path id="arrow-xti" class="ya" d="M461,172 L544,133 L538,123 L583,127 L559,166 L553,155 L472,192 Z"/>
<text class="al" transform="translate(513,160) rotate(-25)" y="5"><tspan font-weight="bold">X</tspan>(<tspan class="i">t</tspan><tspan class="i" font-size="10" dy="2">i</tspan><tspan dy="-2">)</tspan></text>
<path id="arrow-window" class="pa" d="M384,415 L741,415 L889,162 L878,155 L920,136 L920,180 L910,172 L755,439 L384,439 Z"/>
<text class="al" transform="translate(826,292) rotate(-60)" y="4" font-size="13">{<tspan font-weight="bold">X</tspan>(<tspan class="i">t</tspan>)}<tspan font-size="9" dy="-6">W+</tspan><tspan class="i" font-size="9">t</tspan><tspan class="i" font-size="6" dy="1.5">s</tspan><tspan class="i" font-size="9" dx="-18.5" dy="9">t</tspan><tspan font-size="9">=</tspan><tspan class="i" font-size="9">t</tspan><tspan class="i" font-size="6" dy="1.5">s</tspan></text>
<path class="br" d="M762,156 Q770,151 776,153 Q781,147 782,140 Q784,132 792,128"/>
<path class="conn" marker-end="url(#ah)" d="M777,152 V175"/>
<path class="conn" marker-end="url(#ah)" d="M784,152 V251 H777"/>
<path class="conn" marker-end="url(#ah)" d="M792,152 V306 H777"/>
<path class="br" d="M1207,178 Q1215,172 1221,174 Q1225,166 1226,158 Q1228,150 1234,147"/>
<path class="conn" marker-end="url(#ah)" d="M1225,178 V197"/>
<path class="conn" marker-end="url(#ah)" d="M1232,178 V301 H1225"/>
<path class="conn" marker-end="url(#ah)" d="M1239,178 V376 H1225"/>
</g>
</svg>
